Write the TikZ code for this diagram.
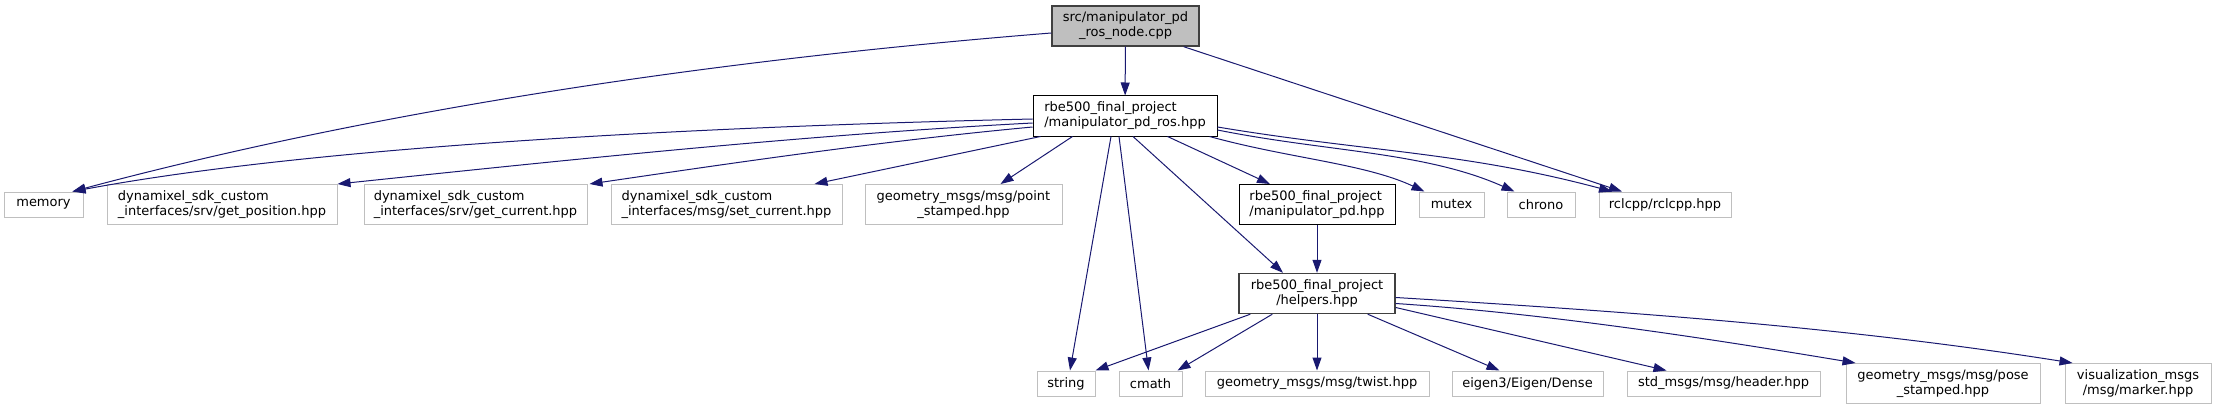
\documentclass[tikz,border=0pt]{standalone}
\usepackage{fontspec}
\setmainfont{DejaVu Sans}
\usepackage{xcolor}
\usepackage{tikz}
\usetikzlibrary{arrows.meta,calc}
\definecolor{extgray}{HTML}{BFBFBF}
\definecolor{rootfill}{HTML}{BFBFBF}
\definecolor{rootedge}{HTML}{404040}
\definecolor{incblue}{HTML}{191970}

\begin{document}
\begin{tikzpicture}[
    x=1pt, y=-1pt,
    basebox/.style={rectangle, inner sep=0pt, line width=1pt, minimum height=25pt,
                    font=\fontsize{13}{15}\selectfont},
    extbox/.style={basebox, draw=extgray, fill=white},
    incbox/.style={basebox, draw=black, fill=white},
    rootbox/.style={basebox, draw=rootedge, line width=1.4pt, fill=rootfill},
    twoline/.style={minimum height=40pt},
    incl/.style={-{Triangle[length=13pt,width=9pt]}, draw=incblue, line width=1pt}
]
\useasboundingbox (0,0) rectangle (2215,409);

% top two levels
\node[rootbox, twoline, minimum width=147pt, align=center] (root) at (1125.5,26) {src/manipulator\_pd\\\_ros\_node.cpp};
\node[incbox, twoline, minimum width=184pt, align=left] (mpr) at (1125,116) {rbe500\_final\_project\\/manipulator\_pd\_ros.hpp};

% third level
\node[extbox, minimum width=79pt] (memory) at (43.5,204.5) {memory};
\node[extbox, twoline, minimum width=230pt, align=left] (getpos) at (222,204.5) {dynamixel\_sdk\_custom\\\_interfaces/srv/get\_position.hpp};
\node[extbox, twoline, minimum width=223pt, align=left] (getcur) at (475.5,204.5) {dynamixel\_sdk\_custom\\\_interfaces/srv/get\_current.hpp};
\node[extbox, twoline, minimum width=231pt, align=left] (setcur) at (726.5,204.5) {dynamixel\_sdk\_custom\\\_interfaces/msg/set\_current.hpp};
\node[extbox, twoline, minimum width=197pt, align=center] (pointst) at (963.5,204.5) {geometry\_msgs/msg/point\\\_stamped.hpp};
\node[incbox, twoline, minimum width=156pt, align=left] (mpd) at (1317,204.5) {rbe500\_final\_project\\/manipulator\_pd.hpp};
\node[extbox, minimum width=65pt] (mutex) at (1451.5,204.5) {mutex};
\node[extbox, minimum width=68pt] (chrono) at (1541,204.5) {chrono};
\node[extbox, minimum width=132pt] (rclcpp) at (1665,204.5) {rclcpp/rclcpp.hpp};

% helpers
\node[rootbox, fill=white, twoline, minimum width=156pt, align=center] (helpers) at (1317,293.5) {rbe500\_final\_project\\/helpers.hpp};

% bottom level
\node[extbox, minimum width=58pt] (string) at (1066,383.5) {string};
\node[extbox, minimum width=63pt] (cmath) at (1150.5,383.5) {cmath};
\node[extbox, minimum width=224pt] (twist) at (1317,383.5) {geometry\_msgs/msg/twist.hpp};
\node[extbox, minimum width=151pt] (eigen) at (1527.5,383.5) {eigen3/Eigen/Dense};
\node[extbox, minimum width=193pt] (header) at (1723.5,383.5) {std\_msgs/msg/header.hpp};
\node[extbox, twoline, minimum width=194pt, align=center] (pose) at (1943,383.5) {geometry\_msgs/msg/pose\\\_stamped.hpp};
\node[extbox, twoline, minimum width=146pt, align=center] (marker) at (2138,383.5) {visualization\_msgs\\/msg/marker.hpp};

% includes of the source file
\draw[incl] (root) -- (mpr);
\draw[incl] ($(root.west)+(0,7)$) .. controls +(-350,28) and +(300,-80) .. ($(memory.north)+(29,0)$);
\draw[incl] ($(root.south east)+(-16,0)$) -- ($(rclcpp.north)+(-43,0)$);

% includes of manipulator_pd_ros.hpp
\draw[incl] ($(mpr.west)+(0,3)$) .. controls +(-383,9) and +(225,-42) .. ($(memory.north)+(29,0)$);
\draw[incl] ($(mpr.west)+(0,7)$) .. controls +(-230,12) and +(230,-24) .. (getpos.north east);
\draw[incl] ($(mpr.west)+(0,11)$) .. controls +(-150,14) and +(150,-22) .. ($(getcur.north east)+(2,0)$);
\draw[incl] ($(mpr.south west)+(8,0)$) -- ($(setcur.north east)+(-28,0)$);
\draw[incl] ($(mpr.south west)+(40,0)$) -- ($(pointst.north)+(37,0)$);
\draw[incl] ($(mpr.south)+(-14,0)$) -- ($(string.north)+(4,0)$);
\draw[incl] ($(mpr.south)+(-6,0)$) -- ($(cmath.north)+(-2,0)$);
\draw[incl] ($(mpr.south)+(8,0)$) -- ($(helpers.north)+(-34,0)$);
\draw[incl] ($(mpr.south east)+(-50,0)$) -- ($(mpd.north)+(-47,0)$);
\draw[incl] ($(mpr.south east)+(-8,0)$) .. controls +(80,22) and +(-60,-28) .. ($(mutex.north west)+(6,0)$);
\draw[incl] ($(mpr.east)+(0,14)$) .. controls +(110,22) and +(-90,-40) .. ($(chrono.north west)+(8,0)$);
\draw[incl] ($(mpr.east)+(0,11)$) .. controls +(150,25) and +(-150,-40) .. ($(rclcpp.north)+(-53,0)$);

% manipulator_pd.hpp and helpers.hpp
\draw[incl] (mpd) -- (helpers);
\draw[incl] ($(helpers.south west)+(12,0)$) -- (string.north east);
\draw[incl] ($(helpers.south west)+(34,0)$) -- ($(cmath.north east)+(-5,0)$);
\draw[incl] (helpers) -- (twist);
\draw[incl] ($(helpers.south east)+(-28,0)$) -- ($(eigen.north)+(-28,0)$);
\draw[incl] ($(helpers.east)+(0,14)$) -- ($(header.north)+(-57,0)$);
\draw[incl] ($(helpers.east)+(0,10)$) .. controls +(150,10) and +(-150,-25) .. ($(pose.north west)+(10,0)$);
\draw[incl] ($(helpers.east)+(0,4)$) .. controls +(230,14) and +(-227,-36) .. ($(marker.north west)+(8,0)$);
\end{tikzpicture}
\end{document}
